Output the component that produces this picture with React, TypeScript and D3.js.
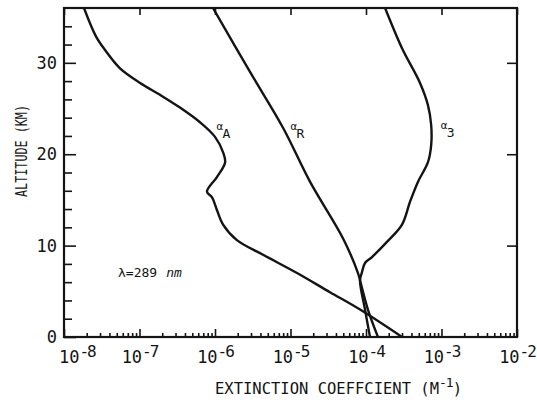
import { useEffect, useRef } from "react";
import * as d3 from "d3";

// altitude (km) / extinction coefficient (1/m)
const aerosolAlt = [36.0, 32.9, 31.4, 29.4, 27.8, 26.5, 25.1, 23.5, 21.9, 20.2, 19.1, 17.5, 15.9, 15.3, 13.9, 12.3, 10.6, 9.0, 7.0, 4.9, 3.0, 0];
const aerosolExt = [1.84e-8, 2.65e-8, 3.5e-8, 5.52e-8, 1.02e-7, 1.87e-7, 3.44e-7, 6.32e-7, 1.0e-6, 1.28e-6, 1.36e-6, 1.06e-6, 7.83e-7, 9.1e-7, 1.06e-6, 1.28e-6, 1.95e-6, 4.33e-6, 1.22e-5, 3.33e-5, 8.34e-5, 3.0e-4];

const rayleighAlt = [36, 29.0, 22.9, 17.0, 10.8, 7.0, 6.2, 3.0, 0];
const rayleighExt = [9.4e-7, 2.91e-6, 7.96e-6, 1.81e-5, 4.95e-5, 7.83e-5, 8.33e-5, 1.06e-4, 1.44e-4];

const ozoneAlt = [36, 31.6, 27.8, 25.4, 23.2, 21.0, 19.1, 17.0, 14.8, 12.3, 10.3, 8.75, 8.1, 7.1, 6.2, 3.0, 0];
const ozoneExt = [1.79e-4, 3.0e-4, 5.19e-4, 6.6e-4, 7.3e-4, 7.3e-4, 6.6e-4, 4.89e-4, 3.83e-4, 3.0e-4, 1.84e-4, 1.2e-4, 9.7e-5, 8.85e-5, 8.33e-5, 9.7e-5, 1.13e-4];

const xDecades = [-8, -7, -6, -5, -4, -3, -2];
const yMajorTicks = [0, 10, 20, 30];

const curveLabels = [
  { sub: "A", ext: 1.05e-6, alt: 22.6 },
  { sub: "R", ext: 1.0e-5, alt: 22.6 },
  { sub: "3", ext: 9.8e-4, alt: 22.8 },
];

const FONT = "'DejaVu Sans Mono', 'Liberation Mono', monospace";
const INK = "#141414";

function ExtinctionChart() {
  const svgRef = useRef<SVGSVGElement | null>(null);

  useEffect(() => {
    const svgEl = svgRef.current;
    if (!svgEl) return;
    const width = 537;
    const height = 404;
    const margin = { top: 8, right: 20, bottom: 67, left: 64 };
    const w = width - margin.left - margin.right;
    const h = height - margin.top - margin.bottom;

    const svg = d3.select(svgEl);
    svg.selectAll("*").remove();
    svg.attr("width", width).attr("height", height);

    const x = d3.scaleLog().domain([1e-8, 1e-2]).range([0, w]);
    const y = d3.scaleLinear().domain([0, 36]).range([h, 0]);

    const g = svg.append("g").attr("transform", `translate(${margin.left},${margin.top})`);

    const minorX: number[] = [];
    xDecades.slice(0, -1).forEach((e) => {
      for (let m = 2; m <= 9; m++) minorX.push(m * Math.pow(10, e));
    });
    const majorX = xDecades.map((e) => Math.pow(10, e));
    const minorY = d3.range(2, 36, 2).filter((v) => v % 10 !== 0);

    const styleAxis = (sel: any) => {
      sel.select(".domain").remove();
      sel.selectAll("line").attr("stroke", INK).attr("stroke-width", 1.6);
    };

    // bottom ticks (inward)
    g.append("g").attr("transform", `translate(0,${h})`)
      .call(d3.axisBottom(x).tickValues(minorX).tickSize(-4).tickFormat(() => ""))
      .call(styleAxis);
    g.append("g").attr("transform", `translate(0,${h})`)
      .call(d3.axisBottom(x).tickValues(majorX).tickSize(-8).tickFormat(() => ""))
      .call(styleAxis);
    // top ticks
    g.append("g")
      .call(d3.axisTop(x).tickValues(majorX).tickSize(-7).tickFormat(() => ""))
      .call(styleAxis);
    // left ticks
    g.append("g")
      .call(d3.axisLeft(y).tickValues(minorY).tickSize(-8).tickFormat(() => ""))
      .call(styleAxis);
    g.append("g")
      .call(d3.axisLeft(y).tickValues(yMajorTicks).tickSize(-12).tickPadding(7).tickFormat((d: any) => String(d)))
      .call(styleAxis)
      .call((s: any) => s.selectAll("text").attr("font-family", FONT).attr("font-size", 17).attr("fill", INK));
    // right ticks
    g.append("g").attr("transform", `translate(${w},0)`)
      .call(d3.axisRight(y).tickValues(yMajorTicks.slice(1)).tickSize(-10).tickFormat(() => ""))
      .call(styleAxis);

    // frame
    g.append("rect").attr("x", 0).attr("y", 0).attr("width", w).attr("height", h)
      .attr("fill", "none").attr("stroke", INK).attr("stroke-width", 2.2);

    // x tick labels with exponents
    xDecades.forEach((e, i) => {
      const t = g.append("text")
        .attr("x", x(Math.pow(10, e)) + (i === 0 ? -5 : 0))
        .attr("y", h + 26)
        .attr("text-anchor", i === 0 ? "start" : "middle")
        .attr("font-family", FONT).attr("font-size", 17).attr("fill", INK);
      t.append("tspan").text("10");
      t.append("tspan").attr("dy", -6).attr("font-size", 16).attr("letter-spacing", -2).text(`-${-e}`);
    });

    // axis titles
    const xt = g.append("text")
      .attr("x", 215 - margin.left).attr("y", h + 57)
      .attr("font-family", FONT).attr("font-size", 15.5).attr("fill", INK);
    xt.append("tspan").text("EXTINCTION COEFFCIENT (M");
    xt.append("tspan").attr("dy", -7).attr("font-size", 13).attr("letter-spacing", -1).text("-1");
    xt.append("tspan").attr("dy", 7).text(")");

    svg.append("text")
      .attr("transform", "translate(27,151) rotate(-90)")
      .attr("text-anchor", "middle")
      .attr("font-family", FONT).attr("font-size", 15).attr("fill", INK)
      .attr("textLength", 92).attr("lengthAdjust", "spacingAndGlyphs")
      .text("ALTITUDE (KM)");

    // wavelength note
    const lam = g.append("text")
      .attr("x", 118 - margin.left).attr("y", 277 - margin.top)
      .attr("font-family", FONT).attr("font-size", 13).attr("fill", INK);
    lam.append("tspan").text("λ=289");
    lam.append("tspan").attr("dx", 9).attr("font-style", "italic").text("nm");

    // curves
    g.append("clipPath").attr("id", "plot-clip")
      .append("rect").attr("width", w).attr("height", h);

    const line = d3.line<[number, number]>()
      .x((d) => x(d[0]))
      .y((d) => y(d[1]))
      .curve(d3.curveCatmullRom.alpha(0.5));

    const series = [
      { ext: aerosolExt, alt: aerosolAlt },
      { ext: rayleighExt, alt: rayleighAlt },
      { ext: ozoneExt, alt: ozoneAlt },
    ];
    series.forEach((s) => {
      const pts = s.ext.map((v, i) => [v, s.alt[i]] as [number, number]);
      g.append("path")
        .attr("d", line(pts))
        .attr("clip-path", "url(#plot-clip)")
        .attr("fill", "none")
        .attr("stroke", INK)
        .attr("stroke-width", 2.4)
        .attr("stroke-linejoin", "round");
    });

    // curve labels: alpha with subscript
    curveLabels.forEach((l) => {
      const lx = x(l.ext);
      const ly = y(l.alt);
      g.append("text").attr("x", lx).attr("y", ly)
        .attr("font-family", FONT).attr("font-size", 11).attr("fill", INK).text("α");
      g.append("text").attr("x", lx + 6).attr("y", ly + 8)
        .attr("font-family", FONT).attr("font-size", 13).attr("fill", INK).text(l.sub);
    });
  }, []);

  return (
    <svg
      ref={svgRef}
      style={{ position: "absolute", left: 0, top: 0, background: "#fff" }}
      role="img"
      aria-label="Extinction coefficient vs altitude"
    />
  );
}

export default function App() {
  return <ExtinctionChart />;
}
